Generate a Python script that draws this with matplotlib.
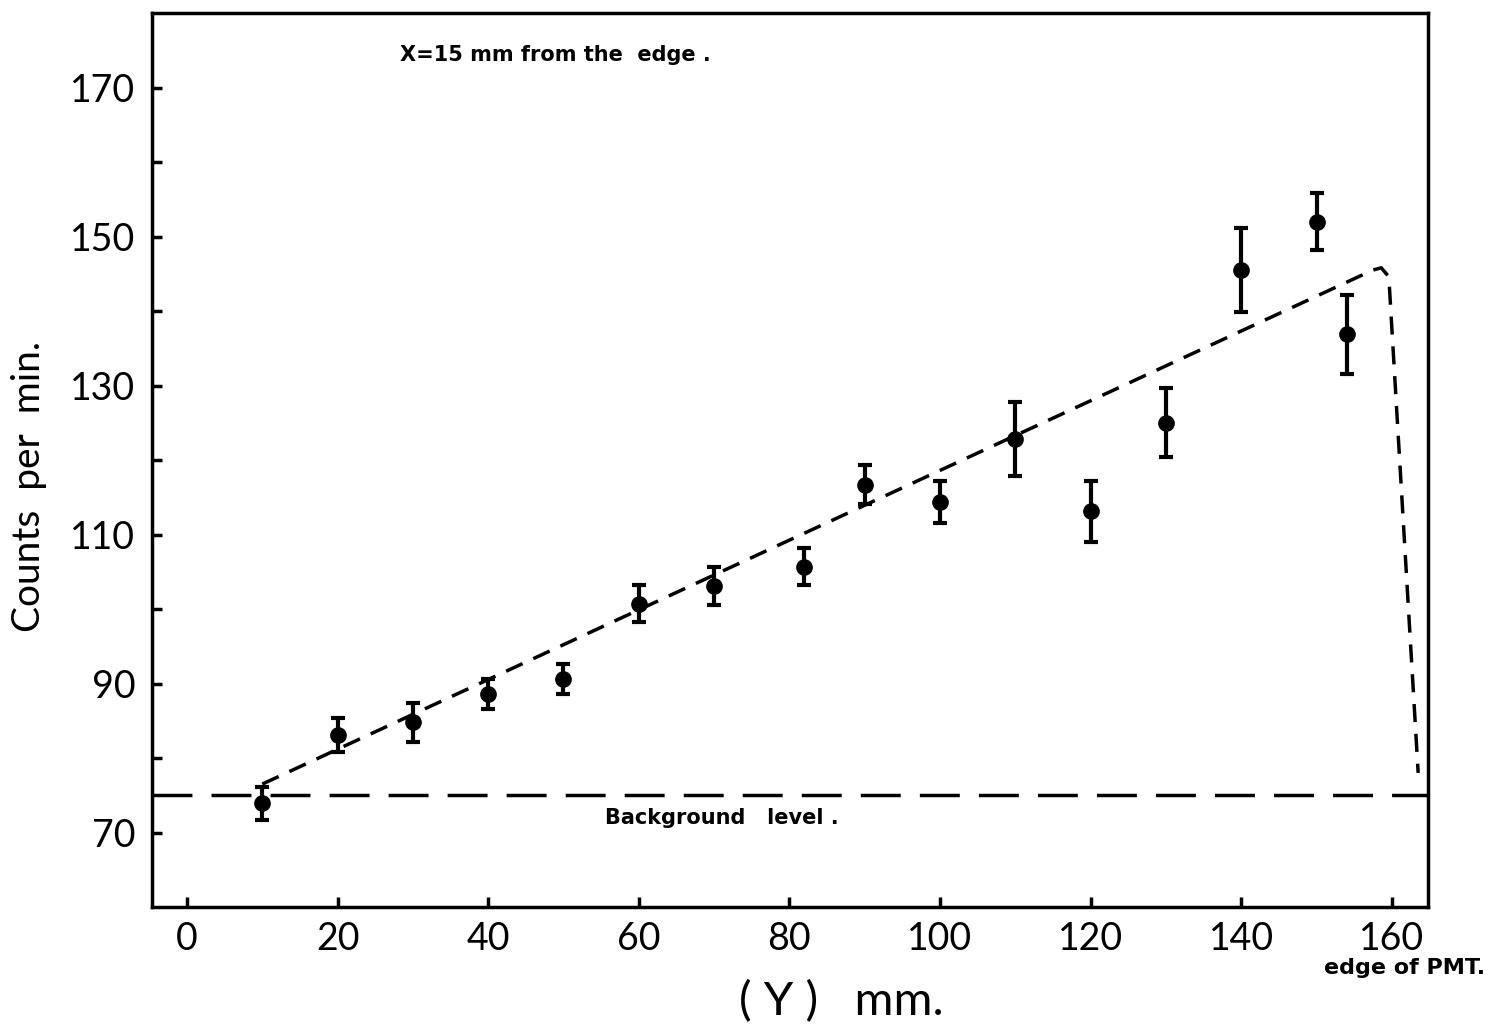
import numpy as np
import matplotlib.pyplot as plt

# measured points (Y position in mm, counts per min, error)
y_pos = [10, 20, 30, 40, 50, 60, 70, 82, 90, 100, 110, 120, 130, 140, 150, 154]
counts = [73.9, 83.1, 84.8, 88.6, 90.6, 100.7, 103.1, 105.7, 116.7, 114.4,
          122.8, 113.1, 125.0, 145.5, 152.0, 136.9]
errors = [2.2, 2.3, 2.6, 2.0, 2.0, 2.5, 2.6, 2.5, 2.6, 2.8,
          5.0, 4.1, 4.6, 5.6, 3.8, 5.3]

# hand drawn trend line
trend_x = [10, 157.5, 158.6, 159.6, 163.5]
trend_y = [76.5, 145.5, 145.8, 144.6, 78.0]

background = 75.0

x_ticks = [0, 20, 40, 60, 80, 100, 120, 140, 160]
y_ticks = [70, 80, 90, 100, 110, 120, 130, 140, 150, 160, 170]
y_labels = ['70', '', '90', '', '110', '', '130', '', '150', '', '170']

plt.rcParams['font.family'] = ['Lato', 'DejaVu Sans']

fig = plt.figure(figsize=(15.09, 10.32), dpi=100)
ax = fig.add_axes([0.1007, 0.1211, 0.8456, 0.8663])

ax.errorbar(y_pos, counts, yerr=errors, fmt='o', color='black', ms=11,
            elinewidth=3, capsize=5, capthick=3)

ax.plot(trend_x, trend_y, color='black', lw=2.5, dashes=(5.2, 3.4))
ax.axhline(background, color='black', lw=2.5, dashes=(11.5, 5.5))

ax.text(55.5, 71.2, 'Background   level .', fontsize=15, fontweight='bold',
        family='DejaVu Sans')
ax.text(28.3, 174.4, 'X=15 mm from the  edge .', fontsize=15, fontweight='bold',
        family='DejaVu Sans', va='center')
ax.text(151.0, 51.0, 'edge of PMT.', fontsize=16, fontweight='bold',
        family='DejaVu Sans', clip_on=False)

ax.set_xlim(-4.65, 164.8)
ax.set_ylim(60, 180)
ax.set_xticks(x_ticks)
ax.set_yticks(y_ticks)
ax.set_yticklabels(y_labels)
ax.tick_params(direction='in', length=7, width=2.5, labelsize=27, pad=12)
ax.tick_params(axis='x', pad=10)

for s in ax.spines.values():
    s.set_linewidth(2.5)

ax.set_xlabel('( Y )   mm.', fontsize=34)
ax.xaxis.set_label_coords(0.54, -0.082)
ax.set_ylabel('Counts  per  min.', fontsize=28)
ax.yaxis.set_label_coords(-0.082, 0.47)

plt.savefig('out.png', dpi=100)
